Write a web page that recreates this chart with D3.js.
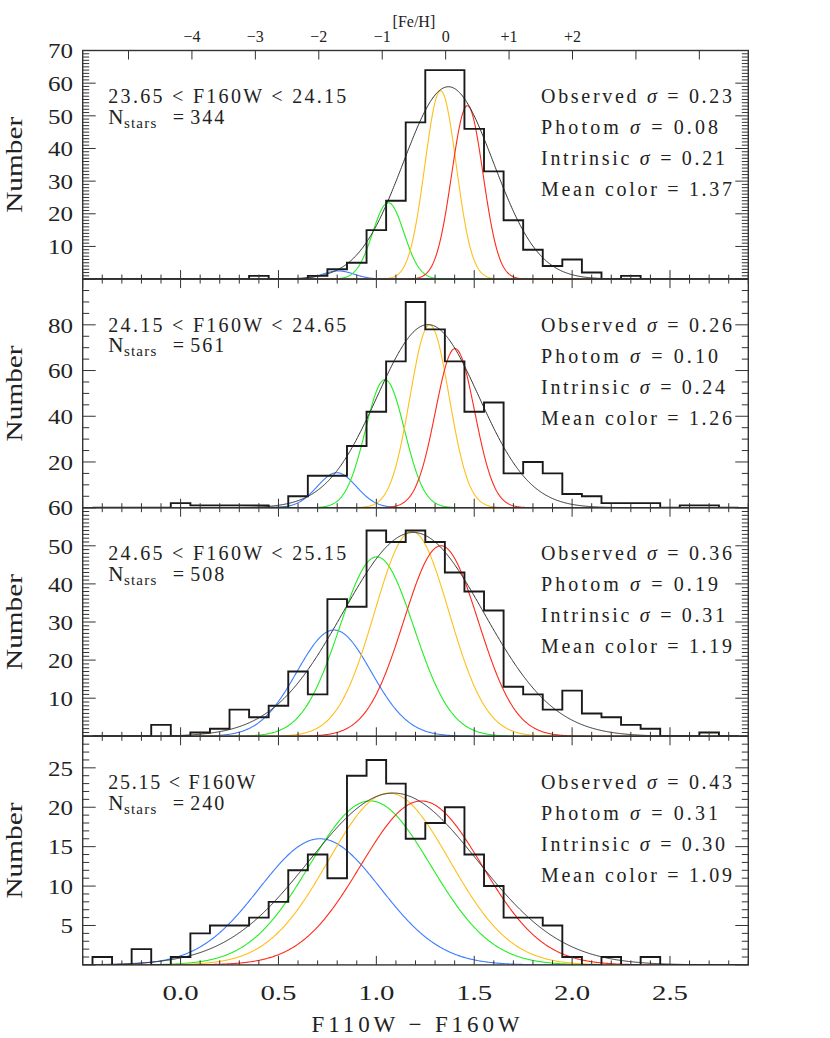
<!DOCTYPE html>
<html>
<head>
<meta charset="utf-8">
<script src="https://cdn.jsdelivr.net/npm/d3@7"></script>
<style>
  html, body { margin: 0; padding: 0; background: #fff; }
  svg { display: block; }
  text { font-family: "Liberation Serif", "DejaVu Serif", serif; fill: #222; }
</style>
</head>
<body>
<svg id="chart" width="830" height="1038"></svg>
<script>
// ---------------- DATA ----------------
const binCenters = [-0.4,-0.3,-0.2,-0.1,0.0,0.1,0.2,0.3,0.4,0.5,0.6,0.7,0.8,0.9,1.0,1.1,1.2,1.3,1.4,1.5,1.6,1.7,1.8,1.9,2.0,2.1,2.2,2.3,2.4,2.5,2.6,2.7,2.8];
const binWidth = 0.1;

const counts1 = [0,0,0,0,0,0,0,0,1,0,0,1,3,5,15,24,48,64,64,46,33,18,9,4,6,2,0,1,0,0,0,0,0];
const counts2 = [0,0,0,0,2,1,1,1,1,0,5,14,14,27,42,64,90,78,64,42,46,15,20,15,6,5,2,2,2,0,1,1,0];
const counts3 = [0,0,0,3,0,1,2,7,5,8,17,11,36,34,54,51,54,51,43,38,33,13,11,7,12,6,5,3,2,0,0,1,0];
const counts4 = [1,0,2,0,1,4,5,5,6,8,12,14,11,24,26,23,16,18,20,14,10,6,6,5,1,0,1,0,1,0,0,0,0];

const magLabels = ["23.65 < F160W < 24.15", "24.15 < F160W < 24.65", "24.65 < F160W < 25.15", "25.15 < F160W"];
const nStars = [344, 561, 508, 240];
const observedSigma = [0.23, 0.26, 0.36, 0.43];
const photomSigma = [0.08, 0.10, 0.19, 0.31];
const intrinsicSigma = [0.21, 0.24, 0.31, 0.30];
const meanColor = [1.37, 1.26, 1.19, 1.09];

// overall gaussian fit (black): peak height and centre
const fitPeak = [58.9, 80.1, 53.5, 21.8];
const fitCentre = [1.368, 1.264, 1.189, 1.087];

// components (sigma = photometric sigma): blue, green, yellow, red
const compColors = ["#3a7dff", "#22ee22", "#ffbf1a", "#ff2a1a"];
const compCentres = [
  [0.806, 1.061, 1.328, 1.465],
  [0.798, 1.044, 1.272, 1.402],
  [0.784, 1.002, 1.181, 1.330],
  [0.712, 0.968, 1.065, 1.230]
];
const compPeaks = [
  [2.5, 23.4, 57.7, 53.1],
  [15.3, 56.0, 80.0, 69.6],
  [27.9, 47.1, 53.8, 50.0],
  [16.0, 20.8, 21.8, 20.8]
];

const yMax = [70, 100, 60, 29];
const yMajorStep = [10, 20, 10, 5];
const yMinorStep = [1, 5, 1, 1];

const xDomain = [-0.5, 2.9];
const xTickLabels = ["0.0", "0.5", "1.0", "1.5", "2.0", "2.5"];
const xMajorTicks = [-0.5, 0.0, 0.5, 1.0, 1.5, 2.0, 2.5];

const fehTicks = [-5,-4,-3,-2,-1,0,1,2,3,4];
const fehLabels = {"-4":"\u22124","-3":"\u22123","-2":"\u22122","-1":"\u22121","0":"0","1":"+1","2":"+2"};
const fehZeroColor = 1.354;   // colour at [Fe/H]=0
const colorPerDex = 0.324;

const counts = [counts1, counts2, counts3, counts4];

// ---------------- LAYOUT ----------------
const svg = d3.select("#chart");
const left = 82.7, right = 748.3;
const top0 = 50.5, panelH = 228.6;
const x = d3.scaleLinear().domain(xDomain).range([left, right]);
const fehX = d3.scaleLinear()
  .domain([fehTicks[0], fehTicks[fehTicks.length-1]])
  .range([x(fehZeroColor + fehTicks[0]*colorPerDex), x(fehZeroColor + fehTicks[fehTicks.length-1]*colorPerDex)]);

const axisColor = "#333";
const xMajLen = 9, xMinLen = 4.5, yMajLen = 13, yMinLen = 6.5;

function gauss(v, mu, s, a) { return a * Math.exp(-(v-mu)*(v-mu)/(2*s*s)); }
const sampleX = d3.range(xDomain[0], xDomain[1] + 0.0001, 0.004);

svg.append("defs").selectAll("clipPath").data([0,1,2,3]).join("clipPath")
  .attr("id", d => "clip" + d)
  .append("rect")
  .attr("x", left).attr("y", d => top0 + d*panelH)
  .attr("width", right-left).attr("height", panelH);

for (let p = 0; p < 4; p++) {
  const pt = top0 + p*panelH, pb = pt + panelH;
  const y = d3.scaleLinear().domain([0, yMax[p]]).range([pb, pt]);
  const g = svg.append("g");
  const cg = g.append("g").attr("clip-path", `url(#clip${p})`);

  // colored component gaussians
  compCentres[p].forEach((mu, i) => {
    const line = d3.line().x(d => x(d)).y(d => y(gauss(d, mu, photomSigma[p], compPeaks[p][i])));
    cg.append("path").attr("d", line(sampleX))
      .attr("fill", "none").attr("stroke", compColors[i]).attr("stroke-width", 1.1);
  });
  // overall fit
  const fitLine = d3.line().x(d => x(d)).y(d => y(gauss(d, fitCentre[p], observedSigma[p], fitPeak[p])));
  cg.append("path").attr("d", fitLine(sampleX))
    .attr("fill", "none").attr("stroke", "#333").attr("stroke-width", 1);

  // histogram step line
  const pts = [];
  pts.push([binCenters[0]-binWidth/2, 0]);
  binCenters.forEach((c, i) => {
    pts.push([c - binWidth/2, counts[p][i]]);
    pts.push([c + binWidth/2, counts[p][i]]);
  });
  pts.push([binCenters[binCenters.length-1]+binWidth/2, 0]);
  cg.append("path").attr("d", d3.line().x(d => x(d[0])).y(d => y(d[1]))(pts))
    .attr("fill", "none").attr("stroke", "#1a1a1a").attr("stroke-width", 1.9);

  // frame
  g.append("rect").attr("x", left).attr("y", pt).attr("width", right-left).attr("height", panelH)
    .attr("fill", "none").attr("stroke", axisColor).attr("stroke-width", 1.4);

  // x ticks (bottom, and top except panel 0)
  const xMinor = d3.range(-0.5, 2.9001, 0.1);
  const xt = g.append("g").attr("stroke", axisColor).attr("stroke-width", 1);
  xMinor.forEach(v => {
    const isMaj = xMajorTicks.some(m => Math.abs(m - v) < 1e-6);
    const len = isMaj ? xMajLen : xMinLen;
    xt.append("line").attr("x1", x(v)).attr("x2", x(v)).attr("y1", pb).attr("y2", pb - len);
    if (p > 0) xt.append("line").attr("x1", x(v)).attr("x2", x(v)).attr("y1", pt).attr("y2", pt + len);
  });

  // y ticks left & right
  const yt = g.append("g").attr("stroke", axisColor).attr("stroke-width", 1);
  const yMinorVals = d3.range(0, yMax[p] + 0.001, yMinorStep[p]);
  yMinorVals.forEach(v => {
    const isMaj = Math.abs(v / yMajorStep[p] - Math.round(v / yMajorStep[p])) < 1e-6;
    const len = isMaj ? yMajLen : yMinLen;
    yt.append("line").attr("x1", left).attr("x2", left + len).attr("y1", y(v)).attr("y2", y(v));
    yt.append("line").attr("x1", right).attr("x2", right - len).attr("y1", y(v)).attr("y2", y(v));
  });
  // y tick labels
  const yLabelVals = d3.range(yMajorStep[p], yMax[p] + 0.001, yMajorStep[p]).filter(v => p !== 1 || v < yMax[p]);
  g.selectAll("text.ylab").data(yLabelVals).join("text")
    .attr("class", "ylab")
    .attr("x", 73).attr("y", d => y(d)).attr("dy", "0.35em")
    .attr("text-anchor", "end").attr("font-size", 22)
    .attr("textLength", d => String(d).length * 12.5).attr("lengthAdjust", "spacingAndGlyphs")
    .text(d => d);

  // y axis title
  g.append("text")
    .attr("transform", `translate(22,${pt + panelH/2}) rotate(-90)`)
    .attr("text-anchor", "middle").attr("font-size", 23)
    .attr("textLength", 96).attr("lengthAdjust", "spacingAndGlyphs")
    .text("Number");

  // text annotations
  const tx = left + 25.6, ty = pt + 52.4;
  g.append("text").attr("x", tx).attr("y", ty).attr("font-size", 20)
    .attr("textLength", p === 3 ? 147 : 238).attr("lengthAdjust", "spacing")
    .text(magLabels[p]);
  const ns = g.append("text").attr("x", tx).attr("y", ty + 20.8).attr("font-size", 20);
  ns.append("tspan").attr("font-size", 21).text("N");
  ns.append("tspan").attr("font-size", 15).attr("letter-spacing", 1.2).attr("dy", 4).attr("dx", 0.5).text("stars");
  ns.append("tspan").attr("x", tx + 64.5).attr("dy", -4).text("=");
  ns.append("tspan").attr("x", tx + 82).attr("letter-spacing", 2).text(nStars[p]);

  const rx = 541;
  const rightLines = [
    ["Observed ", observedSigma[p].toFixed(2), 191],
    ["Photom ", photomSigma[p].toFixed(2), 177],
    ["Intrinsic ", intrinsicSigma[p].toFixed(2), 184],
    ["Mean color", meanColor[p].toFixed(2), 191]
  ];
  rightLines.forEach((r, i) => {
    const t = g.append("text").attr("x", rx).attr("y", ty + i*31.1).attr("font-size", 20)
      .attr("textLength", r[2]).attr("lengthAdjust", "spacing");
    t.append("tspan").text(r[0]);
    if (i < 3) t.append("tspan").attr("font-style", "italic").text("\u03c3");
    t.append("tspan").text(" = " + r[1]);
  });
}

// bottom x tick labels
const bottom = top0 + 4*panelH;
svg.selectAll("text.xlab").data(xTickLabels).join("text")
  .attr("class", "xlab")
  .attr("x", d => x(+d)).attr("y", bottom + 35)
  .attr("text-anchor", "middle").attr("font-size", 22)
  .attr("textLength", 36).attr("lengthAdjust", "spacingAndGlyphs")
  .text(d => d);
svg.append("text").attr("x", (left+right)/2).attr("y", bottom + 67)
  .attr("text-anchor", "middle").attr("font-size", 23)
  .attr("textLength", 208).attr("lengthAdjust", "spacing")
  .text("F110W \u2212 F160W");

// top [Fe/H] axis (panel 1)
const ftg = svg.append("g").attr("stroke", axisColor).attr("stroke-width", 1);
fehTicks.forEach(v => {
  ftg.append("line").attr("x1", fehX(v)).attr("x2", fehX(v)).attr("y1", top0).attr("y2", top0 + 9);
});
svg.selectAll("text.feh").data(fehTicks.filter(v => fehLabels[String(v)] !== undefined)).join("text")
  .attr("class", "feh")
  .attr("x", d => fehX(d)).attr("y", top0 - 9)
  .attr("text-anchor", "middle").attr("font-size", 16)
  .text(d => fehLabels[String(d)]);
svg.append("text").attr("x", fehX(-0.5)).attr("y", 27)
  .attr("text-anchor", "middle").attr("font-size", 16)
  .text("[Fe/H]");
</script>
</body>
</html>
